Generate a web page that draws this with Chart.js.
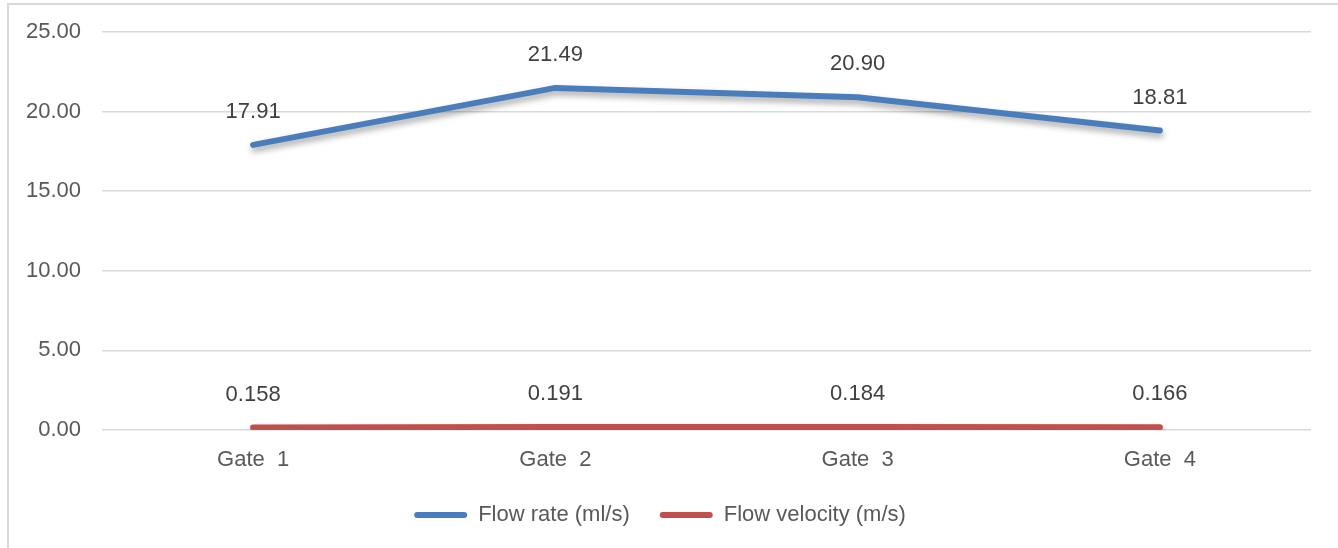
<!DOCTYPE html>
<html>
<head>
<meta charset="utf-8">
<script src="https://cdn.jsdelivr.net/npm/chart.js@4.4.1/dist/chart.umd.min.js"></script>
<style>
  html, body { margin: 0; padding: 0; background: #fff; overflow: hidden; }
  #frame {
    position: absolute; left: 7px; top: 3px;
    width: 1340px; height: 560px;
    border: 2px solid #d9d9d9;
    box-sizing: border-box;
  }
  #wrap { position: absolute; left: 0; top: 0; width: 1336px; height: 541px; }
</style>
</head>
<body>
<div id="frame"><div id="wrap"><canvas id="lineChart"></canvas></div></div>
<script>
const GATES = ['Gate  1', 'Gate  2', 'Gate  3', 'Gate  4'];
const FLOW_RATE = [17.91, 21.49, 20.90, 18.81];
const FLOW_VELOCITY = [0.158, 0.191, 0.184, 0.166];
const Y_TICKS = [0, 5, 10, 15, 20, 25];

const FONT = 'Liberation Sans, Arial, sans-serif';
const TEXT = '#595959';

// soft drop shadow under each line, like the Excel original
const lineShadow = {
  id: 'lineShadow',
  beforeDatasetDraw(chart) {
    const ctx = chart.ctx;
    ctx.save();
    ctx.shadowColor = 'rgba(0, 0, 0, 0.35)';
    ctx.shadowBlur = 6;
    ctx.shadowOffsetX = 1;
    ctx.shadowOffsetY = 4;
  },
  afterDatasetDraw(chart) {
    chart.ctx.restore();
  }
};

// value labels above each point
const valueLabels = {
  id: 'valueLabels',
  afterDatasetsDraw(chart) {
    const ctx = chart.ctx;
    ctx.save();
    ctx.font = '22px ' + FONT;
    ctx.fillStyle = '#404040';
    ctx.textAlign = 'center';
    ctx.textBaseline = 'middle';
    chart.data.datasets.forEach((ds, i) => {
      chart.getDatasetMeta(i).data.forEach((pt, j) => {
        ctx.fillText(ds.data[j].toFixed(ds.decimals), pt.x, pt.y - 33);
      });
    });
    ctx.restore();
  }
};

let lineChart = new Chart(document.getElementById('lineChart'), {
  type: 'line',
  data: {
    labels: GATES,
    datasets: [{
      label: 'Flow rate (ml/s)',
      data: FLOW_RATE,
      decimals: 2,
      borderColor: '#4a7ebb',
      backgroundColor: '#4a7ebb',
      borderWidth: 6,
      borderCapStyle: 'round',
      borderJoinStyle: 'round',
      pointRadius: 0,
      tension: 0
    }, {
      label: 'Flow velocity (m/s)',
      data: FLOW_VELOCITY,
      decimals: 3,
      borderColor: '#c0504d',
      backgroundColor: '#c0504d',
      borderWidth: 6,
      borderCapStyle: 'round',
      borderJoinStyle: 'round',
      pointRadius: 0,
      tension: 0
    }]
  },
  options: {
    responsive: true,
    maintainAspectRatio: false,
    animation: false,
    layout: { padding: { left: 0, right: 34, top: 27, bottom: 10 } },
    scales: {
      x: {
        offset: true,
        grid: { display: false },
        border: { display: false },
        ticks: { color: TEXT, font: { family: FONT, size: 22 }, padding: 9 },
        afterFit(scale) { scale.height = 44; }
      },
      y: {
        min: 0,
        max: 25,
        afterBuildTicks(scale) { scale.ticks = Y_TICKS.map(v => ({ value: v })); },
        grid: { color: '#d9d9d9', lineWidth: 1.5, drawTicks: false },
        border: { display: false },
        ticks: {
          color: TEXT,
          font: { family: FONT, size: 22 },
          padding: 21,
          callback: v => v.toFixed(2)
        },
        afterFit(scale) {
          scale.width = 93;
          scale.paddingTop = 0;
          scale.paddingBottom = 0;
        }
      }
    },
    plugins: {
      tooltip: { enabled: false },
      legend: {
        position: 'bottom',
        labels: {
          color: TEXT,
          font: { family: FONT, size: 22 },
          boxWidth: 53,
          boxHeight: 6,
          padding: 30,
          useBorderRadius: true,
          borderRadius: 3,
          generateLabels(chart) {
            return Chart.defaults.plugins.legend.labels.generateLabels(chart).map(l => {
              l.lineWidth = 0;
              return l;
            });
          }
        }
      }
    }
  },
  plugins: [lineShadow, valueLabels]
});
</script>
</body>
</html>
